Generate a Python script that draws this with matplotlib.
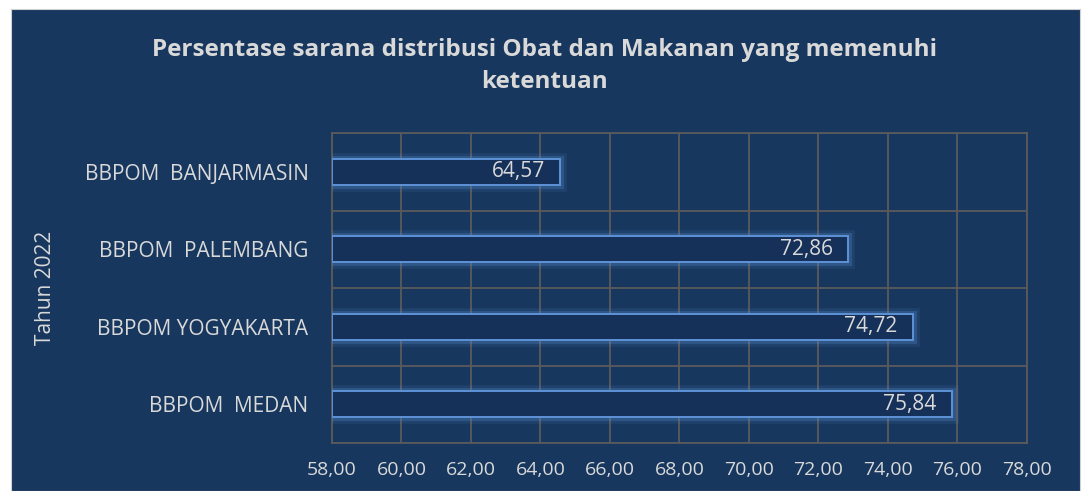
import matplotlib.pyplot as plt
import matplotlib.patheffects as pe
from matplotlib.patches import Rectangle

categories = ['BBPOM  MEDAN', 'BBPOM YOGYAKARTA', 'BBPOM  PALEMBANG', 'BBPOM  BANJARMASIN']
values = [75.84, 74.72, 72.86, 64.57]
xticks = [58, 60, 62, 64, 66, 68, 70, 72, 74, 76, 78]

bg = '#17375E'
txt = '#D9D9D9'
gridc = '#5A5A5A'
edge = '#5E92D8'

plt.rcParams['font.family'] = ['Open Sans', 'DejaVu Sans']

fig = plt.figure(figsize=(10.83, 4.91), dpi=100)
fig.patch.set_facecolor('white')
# dark panel with white margin on left / top
fig.patches.append(Rectangle((11 / 1083, 0), (1080 - 11) / 1083, 1 - 9 / 491,
                             transform=fig.transFigure, facecolor=bg,
                             edgecolor='#D0D0D0', linewidth=0.8, zorder=-5))

ax = fig.add_axes([332 / 1083, 1 - 443 / 491, (1027 - 332) / 1083, (443 - 133) / 491])
ax.set_zorder(2)
ax.set_facecolor(bg)

ypos = list(range(len(categories)))
bars = ax.barh(ypos, [v - 58 for v in values], left=58, height=0.34,
               color='#15315A', edgecolor=edge, linewidth=1.4, zorder=3)
for b in bars:
    b.set_path_effects([pe.Stroke(linewidth=9, foreground=edge, alpha=0.12),
                        pe.Stroke(linewidth=5, foreground=edge, alpha=0.25),
                        pe.Normal()])

for y, v in zip(ypos, values):
    ax.text(v - 0.45, y, f'{v:.2f}'.replace('.', ','), ha='right', va='center',
            color=txt, fontsize=15, zorder=4)

ax.set_xlim(58, 78)
ax.set_ylim(-0.5, len(categories) - 0.5)
ax.set_xticks(xticks)
ax.set_xticklabels([f'{t:.2f}'.replace('.', ',') for t in xticks])
ax.set_yticks(ypos)
ax.set_yticklabels(categories)
ax.set_yticks([i - 0.5 for i in range(len(categories) + 1)], minor=True)
ax.grid(axis='x', which='major', color=gridc, linewidth=1.3, zorder=1)
ax.grid(axis='y', which='minor', color=gridc, linewidth=1.3, zorder=1)
ax.tick_params(axis='both', which='both', length=0, colors=txt)
ax.tick_params(axis='x', pad=13, labelsize=14)
ax.tick_params(axis='y', pad=17, labelsize=15)
for s in ax.spines.values():
    s.set_color(gridc)
    s.set_linewidth(1.3)

ax.set_ylabel('Tahun 2022', color=txt, fontsize=15)
ax.yaxis.set_label_coords(-0.397, 0.5)

fig.text(0.503, 0.865, 'Persentase sarana distribusi Obat dan Makanan yang memenuhi\nketentuan',
         ha='center', va='center', color=txt, fontsize=17.5, fontweight='bold',
         linespacing=1.45)

fig.savefig('out.png', dpi=100)
